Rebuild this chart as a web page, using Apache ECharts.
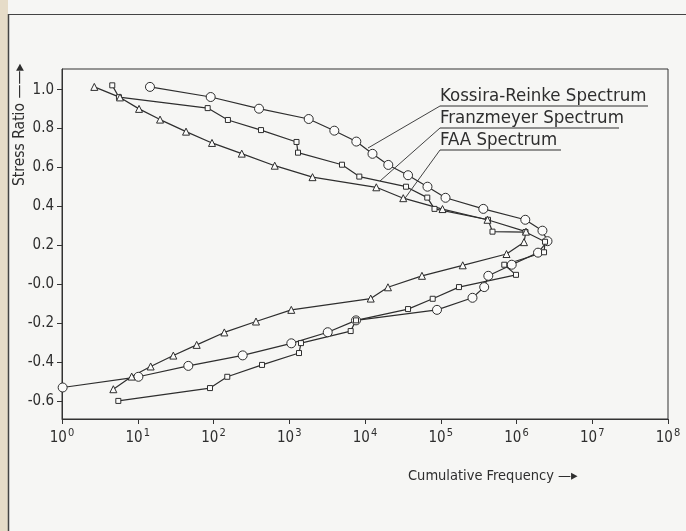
<!DOCTYPE html>
<html>
<head>
<meta charset="utf-8">
<script src="https://cdn.jsdelivr.net/npm/echarts@6/dist/echarts.min.js"></script>
<style>
html,body{margin:0;padding:0;background:#f6f6f4;}
#c{width:686px;height:531px;}
</style>
</head>
<body>
<div id="c"></div>
<script>
// ---- data ----
const krFreq = [14.5, 91.8, 399, 1806, 3935, 7680, 12560, 20300, 37000, 66800, 115600, 364600, 1.306e6, 2.2e6, 2.565e6, 1.923e6, 865000, 424400, 374700, 262400, 89200, 7610, 3220, 1065, 243, 46.5, 10.2, 1.02];
const krRatio = [1.014, 0.962, 0.902, 0.849, 0.789, 0.733, 0.670, 0.613, 0.560, 0.501, 0.444, 0.387, 0.331, 0.275, 0.221, 0.162, 0.100, 0.043, -0.015, -0.070, -0.132, -0.186, -0.247, -0.304, -0.366, -0.420, -0.476, -0.531];

const fmFreq = [4.61, 5.65, 83.8, 155, 424, 1247, 1305, 4970, 8410, 34800, 66400, 82700, 420600, 482000, 1.315e6, 2.38e6, 2.31e6, 690000, 985000, 174000, 78300, 37000, 7610, 6470, 1429, 1345, 437, 152, 89.9, 5.54];
const fmRatio = [1.022, 0.961, 0.905, 0.844, 0.792, 0.731, 0.676, 0.614, 0.553, 0.501, 0.445, 0.387, 0.331, 0.270, 0.268, 0.218, 0.164, 0.100, 0.048, -0.015, -0.075, -0.128, -0.186, -0.241, -0.303, -0.354, -0.415, -0.476, -0.534, -0.600];

const faaFreq = [2.67, 5.83, 10.4, 19.7, 43.4, 95.5, 236, 643, 2028, 14100, 32000, 105500, 414000, 1.334e6, 1.256e6, 738000, 195000, 56500, 20100, 11900, 1064, 364, 139, 60, 29.5, 14.8, 8.32, 4.76];
const faaRatio = [1.014, 0.960, 0.901, 0.846, 0.784, 0.726, 0.671, 0.609, 0.550, 0.498, 0.442, 0.386, 0.331, 0.270, 0.216, 0.155, 0.097, 0.043, -0.016, -0.074, -0.132, -0.192, -0.248, -0.312, -0.367, -0.423, -0.475, -0.540];

const yTicks = [-0.6, -0.4, -0.2, 0, 0.2, 0.4, 0.6, 0.8, 1.0];
const seriesNames = ['Kossira-Reinke Spectrum', 'Franzmeyer Spectrum', 'FAA Spectrum'];
const xTitle = 'Cumulative Frequency \u2014\u25B8';
const yTitle = 'Stress Ratio \u2014\u2014\u25B8';

const zip = (a, b) => a.map((v, i) => [v, b[i]]);
const FONT = 'DejaVu Sans Condensed';
const INK = '#2e2e2e';

const chart = echarts.init(document.getElementById('c'), null, {renderer: 'canvas'});

function mkSeries(name, data, symbol, size) {
  return {
    name: name, type: 'line', data: data, symbol: symbol, symbolSize: size,
    showAllSymbol: true,
    lineStyle: {color: INK, width: 1.2},
    itemStyle: {color: '#fbfbfa', borderColor: INK, borderWidth: 1},
    emphasis: {disabled: true}, animation: false
  };
}

chart.setOption({
  backgroundColor: '#f6f6f4',
  animation: false,
  grid: {left: 62, right: 18, top: 69, bottom: 112, show: true, borderColor: '#333', borderWidth: 1, backgroundColor: 'transparent'},
  xAxis: {
    type: 'log', logBase: 10, min: 1, max: 1e8,
    axisLine: {show: true, onZero: false, lineStyle: {color: '#333', width: 1}},
    axisTick: {show: true, inside: false, length: 5, lineStyle: {color: '#333'}},
    minorTick: {show: false},
    splitLine: {show: false},
    axisLabel: {
      margin: 9,
      formatter: function (v) { return '{b|10}{s|' + Math.round(Math.log10(v)) + '}'; },
      rich: {
        b: {fontFamily: FONT, fontSize: 15, color: INK, verticalAlign: 'bottom', lineHeight: 18},
        s: {fontFamily: FONT, fontSize: 11, color: INK, verticalAlign: 'top', padding: [0, 0, 8, 1], lineHeight: 18}
      }
    }
  },
  yAxis: {
    type: 'value', min: -0.693, max: 1.106,
    axisLine: {show: true, onZero: false, lineStyle: {color: '#333', width: 1}},
    axisTick: {show: true, length: 5, customValues: yTicks, lineStyle: {color: '#333'}},
    splitLine: {show: false},
    axisLabel: {
      customValues: yTicks, margin: 8,
      fontFamily: FONT, fontSize: 15, color: INK,
      formatter: function (v) { return Math.abs(v) < 1e-9 ? '-0.0' : v.toFixed(1); }
    }
  },
  series: [
    mkSeries(seriesNames[0], zip(krFreq, krRatio), 'circle', 9),
    mkSeries(seriesNames[1], zip(fmFreq, fmRatio), 'rect', 5),
    mkSeries(seriesNames[2], zip(faaFreq, faaRatio), 'triangle', 7)
  ],
  graphic: [
    // scan border
    {type: 'rect', shape: {x: 0, y: 0, width: 8, height: 531}, style: {fill: '#e6dcc8'}, silent: true},
    {type: 'line', shape: {x1: 8.5, y1: 14, x2: 8.5, y2: 531}, style: {stroke: '#444', lineWidth: 1.5}, silent: true},
    {type: 'line', shape: {x1: 8, y1: 14.5, x2: 686, y2: 14.5}, style: {stroke: '#444', lineWidth: 1.2}, silent: true},
    // axis titles
    {type: 'text', left: 408, top: 469, style: {text: xTitle, fontFamily: FONT, fontSize: 14.5, fill: INK}, silent: true},
    {type: 'text', x: 12, y: 186, rotation: Math.PI / 2, style: {text: yTitle, fontFamily: FONT, fontSize: 15.5, fill: INK, textVerticalAlign: 'top'}, silent: true},
    // legend labels with leaders
    {type: 'text', x: 440, y: 87, style: {text: seriesNames[0], fontFamily: FONT, fontSize: 18.5, fill: INK}, silent: true},
    {type: 'line', shape: {x1: 440, y1: 106, x2: 648, y2: 106}, style: {stroke: INK, lineWidth: 1}, silent: true},
    {type: 'line', shape: {x1: 440, y1: 106, x2: 368, y2: 148}, style: {stroke: INK, lineWidth: 0.9}, silent: true},
    {type: 'text', x: 440, y: 109, style: {text: seriesNames[1], fontFamily: FONT, fontSize: 18.5, fill: INK}, silent: true},
    {type: 'line', shape: {x1: 440, y1: 128, x2: 619, y2: 128}, style: {stroke: INK, lineWidth: 1}, silent: true},
    {type: 'line', shape: {x1: 440, y1: 128, x2: 380, y2: 181}, style: {stroke: INK, lineWidth: 0.9}, silent: true},
    {type: 'text', x: 440, y: 131, style: {text: seriesNames[2], fontFamily: FONT, fontSize: 18.5, fill: INK}, silent: true},
    {type: 'line', shape: {x1: 440, y1: 150, x2: 561, y2: 150}, style: {stroke: INK, lineWidth: 1}, silent: true},
    {type: 'line', shape: {x1: 440, y1: 150, x2: 403, y2: 201}, style: {stroke: INK, lineWidth: 0.9}, silent: true}
  ]
});
</script>
</body>
</html>
